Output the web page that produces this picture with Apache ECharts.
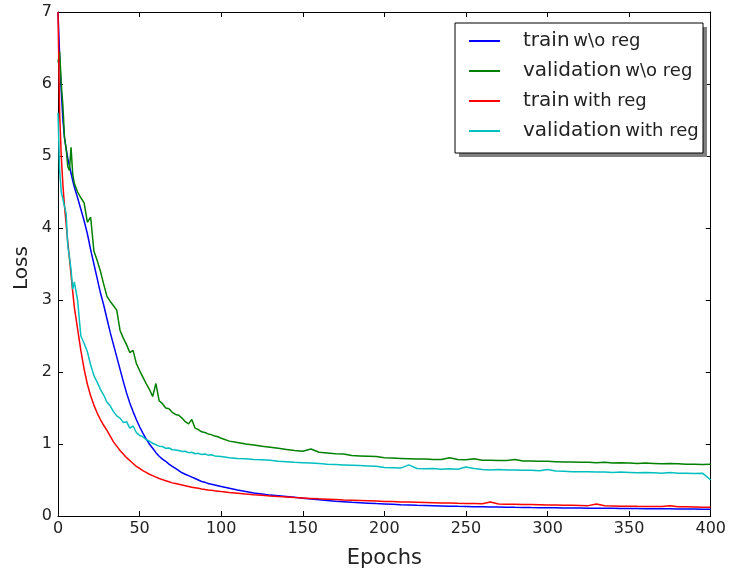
<!DOCTYPE html>
<html>
<head>
<meta charset="utf-8">
<script src="https://cdn.jsdelivr.net/npm/echarts@6/dist/echarts.min.js"></script>
<style>
    html, body {margin: 0; padding: 0; background: #fff;}
    #chart {width: 729px; height: 574px;}
</style>
</head>
<body>
<div id="chart"></div>
<script>
var epochs = [0,1,2,3,4,5,6,7,8,9,10,
    12,14,16,18,20,22,24,26,28,30,32,34,36,38,40,42,44,46,48,50,
    52,54,56,58,60,62,64,66,68,70,72,74,76,78,80,82,84,86,88,90,92,94,96,98,100,
    105,110,115,120,125,130,135,140,145,150,155,160,165,170,175,180,185,190,195,200,
    205,210,215,220,225,230,235,240,245,250,255,260,265,270,275,280,285,290,295,300,
    305,310,315,320,325,330,335,340,345,350,355,360,365,370,375,380,385,390,395,400];

var seriesNames = ['train w\\o reg', 'validation w\\o reg', 'train with reg', 'validation with reg'];

// train w\o reg (blue)
var trainNoReg = [7.0,6.4,5.9,5.5,5.25,5.1,4.97,4.86,4.76,4.66,4.57,
    4.42,4.26,4.1,3.92,3.7,3.5,3.3,3.1,2.93,2.74,2.55,2.38,2.21,2.04,1.87,1.71,1.57,1.45,1.34,1.24,
    1.15,1.07,1.0,0.94,0.88,0.83,0.79,0.76,0.72,0.69,0.66,0.63,0.6,0.58,0.56,0.54,0.52,0.5,0.48,0.47,0.45,0.44,0.43,0.42,0.41,
    0.385,0.36,0.34,0.32,0.305,0.29,0.28,0.27,0.26,0.245,0.235,0.225,0.215,0.205,0.198,0.19,0.184,0.178,0.172,0.167,
    0.162,0.157,0.153,0.149,0.146,0.143,0.14,0.137,0.134,0.132,0.13,0.128,0.126,0.124,0.122,0.12,0.119,0.117,0.116,0.114,
    0.113,0.112,0.111,0.11,0.109,0.108,0.107,0.106,0.105,0.104,0.103,0.102,0.101,0.1,0.099,0.098,0.097,0.096,0.095,0.094];

// validation w\o reg (green)
var valNoReg = [6.3,6.45,6.0,5.7,5.25,5.1,4.85,4.8,5.12,4.75,4.62,
    4.5,4.42,4.35,4.08,4.15,3.68,3.55,3.4,3.22,3.05,2.98,2.92,2.86,2.58,2.47,2.38,2.27,2.3,2.12,2.02,
    1.93,1.84,1.76,1.66,1.84,1.6,1.56,1.5,1.49,1.44,1.41,1.4,1.36,1.31,1.28,1.34,1.22,1.2,1.17,1.16,1.14,1.13,1.11,1.1,1.08,
    1.04,1.02,1.0,0.985,0.97,0.955,0.94,0.925,0.91,0.9,0.93,0.885,0.875,0.865,0.86,0.84,0.835,0.83,0.825,0.81,
    0.805,0.8,0.795,0.79,0.79,0.785,0.785,0.81,0.785,0.78,0.795,0.775,0.775,0.77,0.77,0.785,0.765,0.765,0.76,0.76,
    0.755,0.75,0.75,0.745,0.745,0.74,0.745,0.735,0.74,0.735,0.73,0.735,0.73,0.725,0.73,0.725,0.72,0.72,0.715,0.72];

// train with reg (red)
var trainReg = [7.0,5.6,5.0,4.6,4.3,4.05,3.8,3.58,3.35,3.12,2.9,
    2.6,2.3,2.04,1.83,1.67,1.54,1.43,1.34,1.26,1.19,1.11,1.03,0.97,0.91,0.86,0.81,0.77,0.73,0.69,0.66,
    0.63,0.605,0.58,0.56,0.54,0.52,0.505,0.49,0.475,0.46,0.45,0.44,0.43,0.42,0.41,0.4,0.392,0.384,0.376,0.369,0.362,0.356,0.35,0.345,0.34,
    0.328,0.317,0.306,0.296,0.287,0.278,0.27,0.263,0.256,0.25,0.244,0.238,0.233,0.228,0.223,0.219,0.215,0.211,0.207,0.203,
    0.2,0.196,0.193,0.19,0.187,0.184,0.181,0.179,0.176,0.174,0.172,0.17,0.195,0.166,0.164,0.162,0.16,0.158,0.156,0.154,
    0.152,0.15,0.148,0.146,0.144,0.168,0.141,0.139,0.137,0.136,0.134,0.133,0.132,0.131,0.142,0.129,0.127,0.125,0.123,0.122];

// validation with reg (cyan)
var valReg = [5.6,4.8,4.5,4.4,4.3,4.2,3.75,3.6,3.42,3.15,3.25,
    3.0,2.5,2.4,2.28,2.1,1.95,1.86,1.76,1.68,1.58,1.53,1.45,1.39,1.36,1.3,1.31,1.22,1.25,1.16,1.12,
    1.1,1.06,1.04,1.01,0.99,0.97,0.965,0.94,0.945,0.92,0.915,0.91,0.895,0.9,0.88,0.885,0.865,0.87,0.855,0.86,0.845,0.85,0.835,0.83,0.825,
    0.81,0.8,0.795,0.785,0.78,0.775,0.76,0.755,0.745,0.74,0.735,0.73,0.72,0.715,0.71,0.705,0.7,0.695,0.69,0.675,
    0.67,0.665,0.71,0.66,0.655,0.66,0.65,0.655,0.65,0.68,0.66,0.645,0.64,0.645,0.64,0.64,0.635,0.635,0.63,0.645,
    0.625,0.62,0.615,0.615,0.615,0.61,0.61,0.605,0.61,0.605,0.6,0.605,0.6,0.595,0.605,0.595,0.595,0.59,0.595,0.5];

var lineColors = ['#0000ff', '#008000', '#ff0000', '#00bfbf'];
var xTicks = {min: 0, max: 400, interval: 50};
var yTicks = {min: 0, max: 7, interval: 1};

function pairs(vals){
    return epochs.map(function (e, i) {
        return [e, vals[i]];
    });
}

var chart = echarts.init(document.getElementById('chart'));
var font = 'DejaVu Sans';
var tickStyle = {show: true, inside: true, length: 5, lineStyle: {color: '#000', width: 1}};
var lineAx = {show: true, onZero: false, lineStyle: {color: '#000', width: 1}};

chart.setOption({
    animation: false,
    textStyle: {fontFamily: font},
    grid: {left: 58, right: 17, top: 12, bottom: 57, containLabel: false},
    xAxis: [{
        type: 'value', min: xTicks.min, max: xTicks.max, interval: xTicks.interval,
        axisLine: lineAx, axisTick: tickStyle, splitLine: {show: false},
        axisLabel: {margin: 5, fontSize: 16, color: '#222', fontFamily: font},
        name: 'Epochs', nameLocation: 'middle', nameGap: 32,
        nameTextStyle: {fontSize: 21, color: '#222', fontFamily: font}
    }, {
        type: 'value', position: 'top', min: xTicks.min, max: xTicks.max, interval: xTicks.interval,
        axisLine: lineAx, axisTick: tickStyle, splitLine: {show: false}, axisLabel: {show: false}
    }],
    yAxis: [{
        type: 'value', min: yTicks.min, max: yTicks.max, interval: yTicks.interval,
        axisLine: lineAx, axisTick: tickStyle, splitLine: {show: false},
        axisLabel: {margin: 6, fontSize: 16, color: '#222', fontFamily: font}
    }, {
        type: 'value', position: 'right', min: yTicks.min, max: yTicks.max, interval: yTicks.interval,
        axisLine: lineAx, axisTick: tickStyle, splitLine: {show: false}, axisLabel: {show: false}
    }],
    graphic: [
        {type: 'text', x: 22, y: 268, rotation: Math.PI / 2, z: 10,
            style: {text: 'Loss', font: '20px "DejaVu Sans"', fill: '#222', textAlign: 'center', textVerticalAlign: 'middle'}},
        {type: 'rect', z: 5, shape: {x: 459, y: 27, width: 248, height: 130}, style: {fill: '#808080'}},
        {type: 'rect', z: 6, shape: {x: 455, y: 23, width: 248, height: 130}, style: {fill: '#fff', stroke: '#000', lineWidth: 1}}
    ],
    legend: {
        orient: 'vertical', left: 469, top: 30, padding: 0, z: 20,
        icon: 'rect', itemWidth: 31, itemHeight: 2, itemGap: 8,
        data: seriesNames,
        formatter: function (name) {
            var i = name.indexOf(' ');
            return '{a|' + name.slice(0, i) + '} {b|' + name.slice(i + 1) + '}';
        },
        textStyle: {
            padding: [0, 0, 0, 18],
            lineHeight: 22,
            rich: {
                a: {fontSize: 20, lineHeight: 22, color: '#222', fontFamily: font},
                b: {fontSize: 18, lineHeight: 22, color: '#222', fontFamily: font}
            }
        }
    },
    series: [trainNoReg, valNoReg, trainReg, valReg].map(function (vals, k) {
        return {
            name: seriesNames[k],
            type: 'line',
            symbol: 'none',
            data: pairs(vals),
            lineStyle: {color: lineColors[k], width: 1.5},
            itemStyle: {color: lineColors[k]},
            z: 2
        };
    })
});
</script>
</body>
</html>
